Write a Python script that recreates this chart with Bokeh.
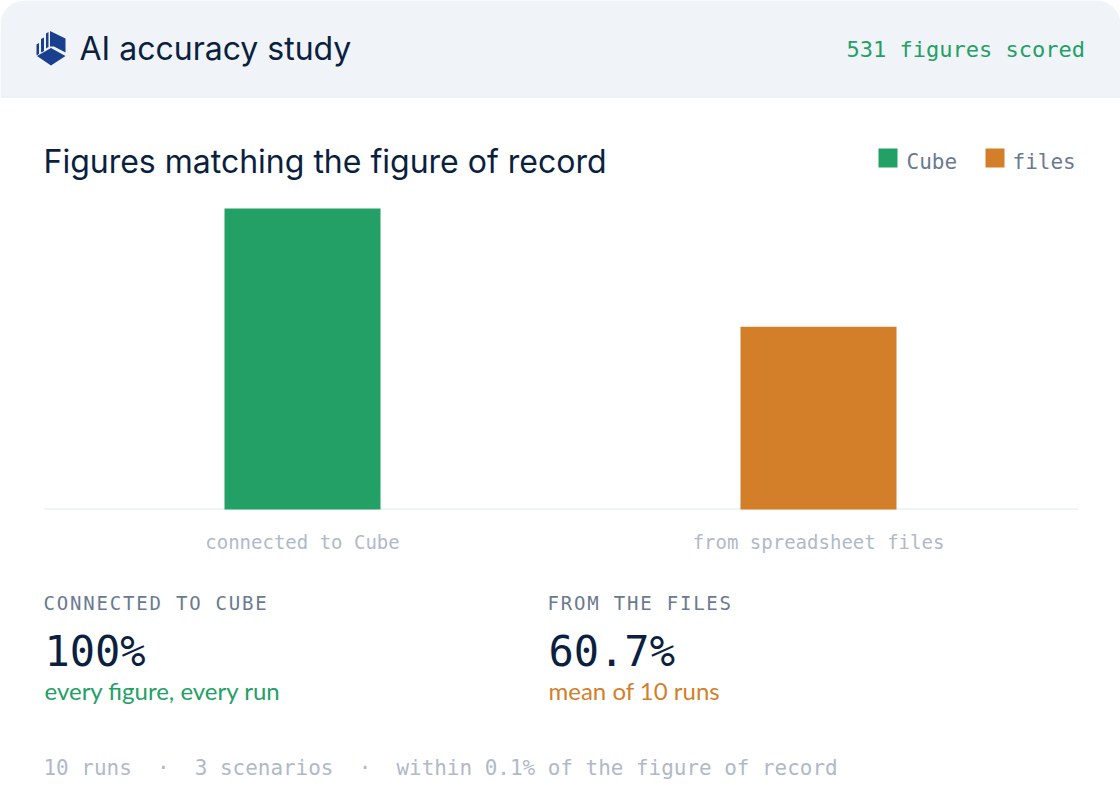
from bokeh.plotting import figure
from bokeh.layouts import column
from bokeh.embed import file_html
from bokeh.resources import INLINE
from bokeh.models import Label, BoxAnnotation, PolyAnnotation, FactorRange, Range1d
from bokeh.core.properties import value

categories = ["connected to Cube", "from spreadsheet files"]
series_names = ["Cube", "files"]
values = [100, 60.7]
colors = ["#22a065", "#d37f2a"]

W, H = 1120, 800
T, B = 208, 509
NAVY = "#0b1f3f"
MONO = "DejaVu Sans Mono"
SANS = "Inter"
LOGO = "#1a3f8f"
GREY = "#6b7a90"
unit = (B - T) / 100

p = figure(width=W, height=H, output_backend="svg", toolbar_location=None,
           x_range=FactorRange(factors=categories, factor_padding=0, range_padding=302 / 516 - 0.5,
                               range_padding_units="absolute"),
           y_range=Range1d(-(H - B) / unit, 100 + T / unit),
           min_border=0, outline_line_color=None, x_axis_location=None, y_axis_location=None)
p.xgrid.visible = False
p.ygrid.visible = False

def layer(css):
    # transparent overlay whose inherited CSS reaches its SVG text
    f = figure(width=W, height=H, output_backend="svg", toolbar_location=None,
               x_range=Range1d(0, W), y_range=Range1d(0, H), min_border=0, outline_line_color=None,
               x_axis_location=None, y_axis_location=None, background_fill_alpha=0, border_fill_alpha=0,
               margin=(-H, 0, 0, 0), styles=css)
    f.xgrid.visible = False
    f.ygrid.visible = False
    return f

q = layer({"letter-spacing": "1.8px"})
r = layer({"stroke": NAVY, "stroke-width": "0.4px"})

def box(l, r_, t, b, color, **kw):
    p.add_layout(BoxAnnotation(left=l, right=r_, top=H - t, bottom=H - b, left_units="screen", right_units="screen",
                               top_units="screen", bottom_units="screen", fill_color=color, fill_alpha=1,
                               line_color=None, level="underlay", **kw))

box(0, W, 0, 96, "#f0f4f9", border_radius=(24, 24, 0, 0))
box(0, W, 96, 97, "#e2e8f0")
box(44, 1078, 508, 509, "#e2e8f0")

def poly(xs, ys):
    p.add_layout(PolyAnnotation(xs=xs, ys=[H - y for y in ys], xs_units="screen", ys_units="screen",
                                fill_color=LOGO, fill_alpha=1, line_color=None))

poly([36, 38.5, 38.5, 36], [44, 42.5, 53.5, 55])
poly([40.5, 43.5, 43.5, 40.5], [38.5, 37, 50.5, 52])
poly([45.5, 48, 48, 45.5], [33, 31.5, 46.5, 48])
poly([49.5, 65, 65, 53.5, 49.5], [30.5, 38, 52, 46, 46])
poly([36.5, 50.5, 65, 50.5], [55.5, 47.5, 55.5, 65])

for c, v, col in zip(categories, values, colors):
    p.vbar(x=[c], top=[v], width=156 / 516, bottom=0, color=col, line_color=None)

p.text(x=categories, y=[0, 0], text=categories, y_offset=32, text_align="center", text_baseline="alphabetic",
       text_font=value(MONO), text_font_size="19px", text_color="#b0b9c8")

def txt(x, y, s, size, color, font=MONO, fig=p):
    fig.add_layout(Label(x=x, y=H - y, x_units="screen", y_units="screen", text=s, text_font=font,
                         text_font_size=f"{size}px", text_color=color, text_align="left",
                         text_baseline="alphabetic"))

for name, col, lx, tx in zip(series_names, colors, [878, 985], [906, 1012]):
    box(lx, lx + 19, 148, 167, col)
    txt(tx, 161, name, 21, GREY)

txt(79, 48, "AI accuracy study", 32, NAVY, SANS, fig=r)
txt(846, 49, "531 figures scored", 22, "#22a065")
txt(43, 161, "Figures matching the figure of record", 32, NAVY, SANS, fig=r)
txt(43, 602, "CONNECTED TO CUBE", 19, GREY, fig=q)
txt(547, 602, "FROM THE FILES", 19, GREY, fig=q)
txt(44, 651, "100%", 42, NAVY)
txt(548, 651, "60.7%", 42, NAVY)
txt(44, 690, "every figure, every run", 24, "#22a065", "Lato")
txt(548, 690, "mean of 10 runs", 24, "#d37f2a", "Lato")
txt(43, 767, "10 runs\u00a0\u00a0·\u00a0\u00a03 scenarios\u00a0\u00a0·\u00a0\u00a0within 0.1% of the figure of record", 20.95, "#b0b9c8")

open("out.html", "w").write(file_html(column(p, q, r, spacing=0), INLINE))
